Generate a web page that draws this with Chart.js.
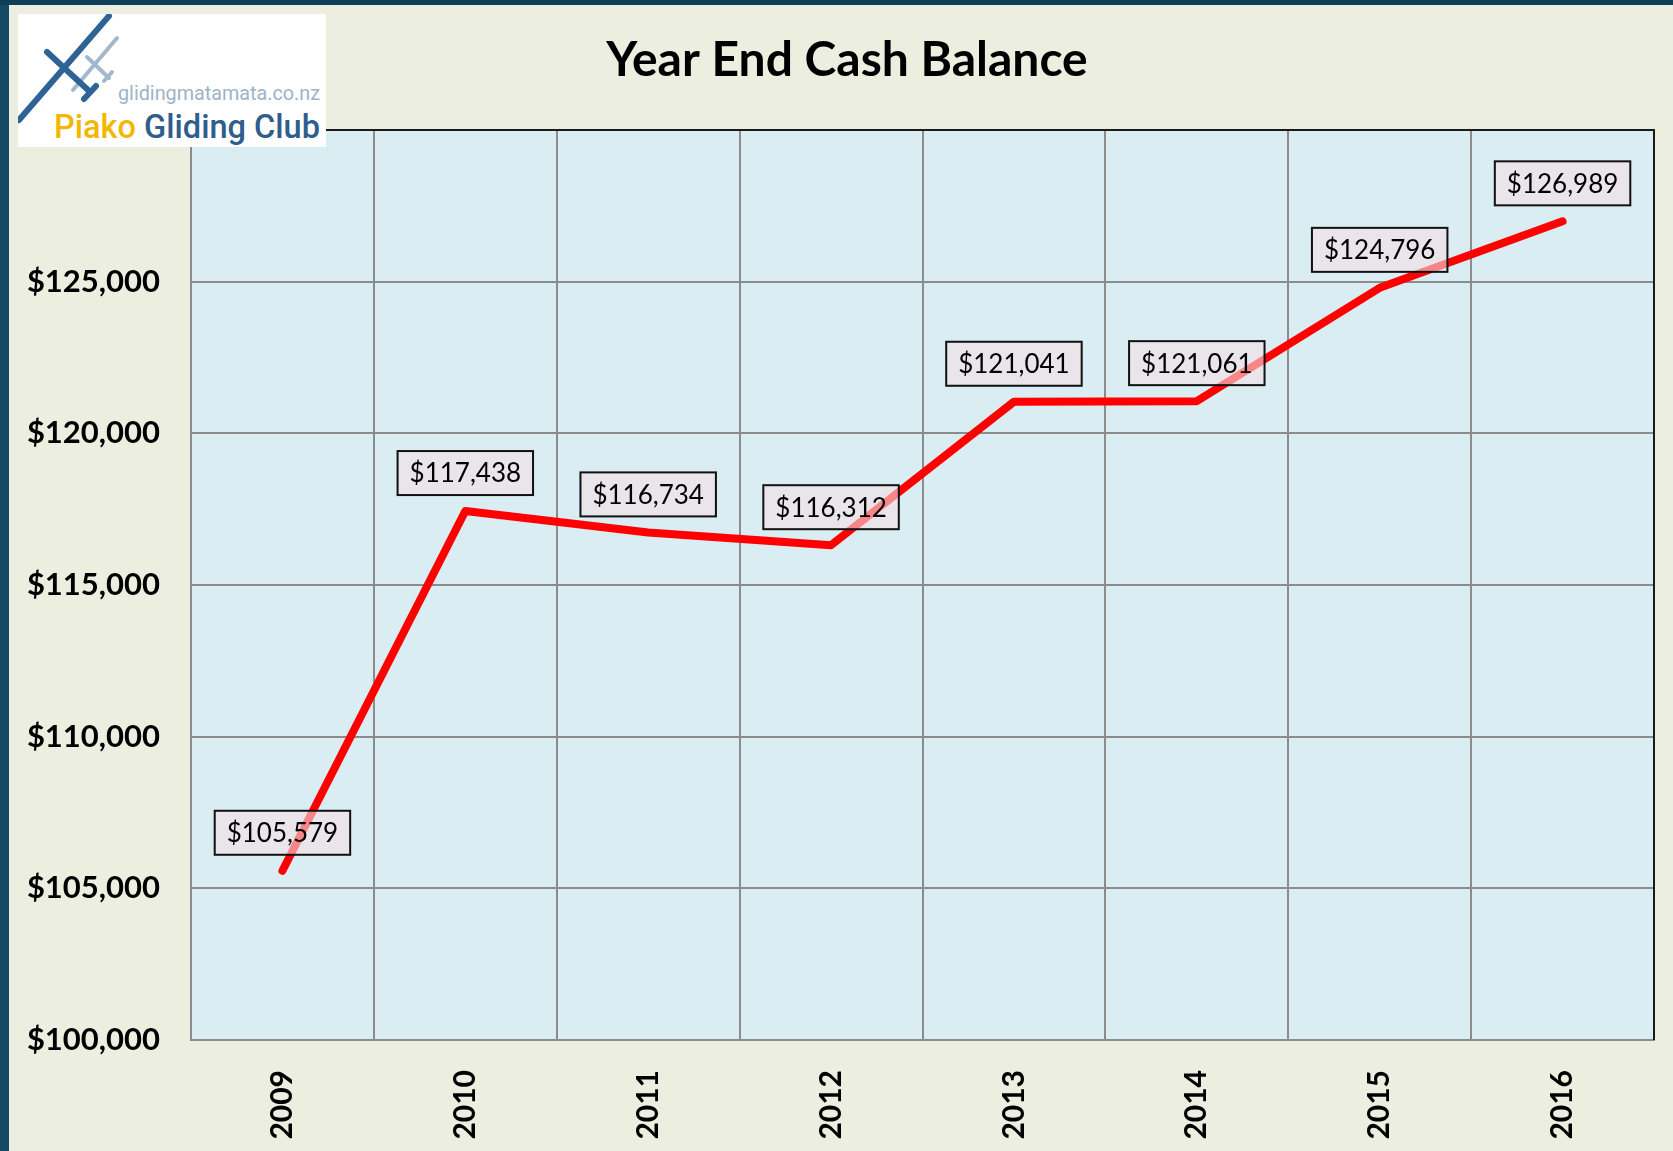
<!DOCTYPE html>
<html>
<head>
    <title>Year End Cash Balance</title>
    <script src="https://cdn.jsdelivr.net/npm/chart.js@4"></script>
    <style>
        body { margin: 0; }
        .page {
            position: relative;
            width: 1673px;
            height: 1151px;
            background: #ecefe0;
            overflow: hidden;
        }
        .chart-container {
            position: absolute;
            left: 0; top: 0;
            width: 1673px;
            height: 1151px;
        }
        .edge-left { position: absolute; left: 0; top: 0; width: 9px; height: 1151px; background: #144a66; }
        .edge-top { position: absolute; left: 0; top: 0; width: 1673px; height: 5px; background: #0f3f58; }
        .logo {
            position: absolute;
            left: 18px; top: 14px;
            width: 308px; height: 133px;
            background: #fff;
        }
    </style>
</head>
<body>
<div class="page">
    <div class="chart-container">
        <canvas id="cashChart"></canvas>
    </div>
    <div class="edge-left"></div>
    <div class="edge-top"></div>
    <div class="logo">
        <svg width="308" height="133" viewBox="0 0 308 133">
            <!-- light glider -->
            <g stroke="#a3b8cc" stroke-linecap="round" fill="none">
                <line x1="55" y1="76" x2="99" y2="24" stroke-width="4"/>
                <line x1="69" y1="43" x2="91" y2="64" stroke-width="4"/>
                <line x1="86" y1="67" x2="94" y2="58" stroke-width="4"/>
            </g>
            <!-- dark glider -->
            <g stroke="#2e6395" stroke-linecap="round" fill="none">
                <line x1="1" y1="106" x2="91" y2="2" stroke-width="6"/>
                <line x1="29" y1="38" x2="70" y2="76" stroke-width="6"/>
                <line x1="66" y1="85" x2="78" y2="72" stroke-width="6"/>
            </g>
            <text x="100" y="86" font-family="Roboto" font-size="20" fill="#9fb3c8"
                  textLength="202" lengthAdjust="spacingAndGlyphs">glidingmatamata.co.nz</text>
            <text x="36" y="124" font-family="Roboto" font-weight="500" font-size="34"
                  textLength="266" lengthAdjust="spacingAndGlyphs"><tspan fill="#f2b705">Piako</tspan> <tspan fill="#2e5d8e">Gliding Club</tspan></text>
        </svg>
    </div>
</div>

<script>
    const years = ['2009', '2010', '2011', '2012', '2013', '2014', '2015', '2016'];
    const balances = [105579, 117438, 116734, 116312, 121041, 121061, 124796, 126989];
    const yMin = 100000;
    const yMax = 130000;
    const yStep = 5000;
    const chartTitle = 'Year End Cash Balance';

    const money = v => '$' + v.toLocaleString('en-US');

    const plotBackground = {
        id: 'plotBackground',
        beforeDraw(chart) {
            const { ctx, chartArea: a } = chart;
            ctx.save();
            ctx.fillStyle = '#daedf3';
            ctx.fillRect(a.left, a.top, a.right - a.left, a.bottom - a.top);
            ctx.restore();
        },
        beforeDatasetsDraw(chart) {
            // dark top and right edges of the plot
            const { ctx, chartArea: a } = chart;
            ctx.save();
            ctx.strokeStyle = '#1a1a1a';
            ctx.lineWidth = 2;
            ctx.beginPath();
            ctx.moveTo(a.left, a.top);
            ctx.lineTo(a.right, a.top);
            ctx.lineTo(a.right, a.bottom);
            ctx.stroke();
            ctx.restore();
        }
    };

    // title sits over the page centre, slightly right of the canvas middle
    const pageTitle = {
        id: 'pageTitle',
        afterDraw(chart) {
            const ctx = chart.ctx;
            ctx.save();
            ctx.font = 'bold 48px Lato';
            ctx.fillStyle = '#000';
            ctx.textAlign = 'center';
            ctx.textBaseline = 'middle';
            ctx.fillText(chartTitle, 847, 61);
            ctx.restore();
        }
    };

    const valueBoxes = {
        id: 'valueBoxes',
        afterDatasetsDraw(chart) {
            const ctx = chart.ctx;
            const meta = chart.getDatasetMeta(0);
            ctx.save();
            ctx.font = '26px Lato';
            ctx.textAlign = 'center';
            ctx.textBaseline = 'middle';
            meta.data.forEach((pt, i) => {
                const text = money(balances[i]);
                const w = ctx.measureText(text).width + 24;
                const h = 44;
                const cx = pt.x;
                const cy = pt.y - 38;
                ctx.fillStyle = 'rgba(244, 224, 228, 0.6)';
                ctx.fillRect(cx - w / 2, cy - h / 2, w, h);
                ctx.strokeStyle = '#111';
                ctx.lineWidth = 2;
                ctx.strokeRect(cx - w / 2, cy - h / 2, w, h);
                ctx.fillStyle = '#000';
                ctx.fillText(text, cx, cy + 1);
            });
            ctx.restore();
        }
    };

    new Chart(document.getElementById('cashChart'), {
        type: 'line',
        data: {
            labels: years,
            datasets: [{
                label: chartTitle,
                data: balances,
                borderColor: '#ff0000',
                borderWidth: 8,
                borderCapStyle: 'round',
                borderJoinStyle: 'round',
                pointRadius: 0,
                tension: 0
            }]
        },
        options: {
            responsive: true,
            maintainAspectRatio: false,
            animation: false,
            layout: {
                padding: { left: 10, right: 19, top: 130, bottom: 0 }
            },
            plugins: {
                legend: { display: false },
                tooltip: { enabled: false },
                title: { display: false }
            },
            scales: {
                x: {
                    offset: true,
                    afterFit(scale) { scale.height = 111; },
                    grid: {
                        offset: true,
                        color: '#8c8c8c',
                        lineWidth: 2,
                        drawTicks: false
                    },
                    border: { color: '#8c8c8c', width: 2 },
                    ticks: {
                        maxRotation: 90,
                        minRotation: 90,
                        padding: 30,
                        color: '#000',
                        font: { family: 'Lato', size: 30, weight: 'bold' }
                    }
                },
                y: {
                    min: yMin,
                    max: yMax,
                    afterFit(scale) { scale.width = 181; },
                    grid: {
                        color: '#8c8c8c',
                        lineWidth: 2,
                        drawTicks: false
                    },
                    border: { color: '#8c8c8c', width: 2 },
                    ticks: {
                        stepSize: yStep,
                        padding: 31,
                        color: '#000',
                        font: { family: 'Lato', size: 31, weight: 'bold' },
                        callback: v => v === yMax ? '' : money(v)
                    }
                }
            }
        },
        plugins: [plotBackground, valueBoxes, pageTitle]
    });
</script>
</body>
</html>
